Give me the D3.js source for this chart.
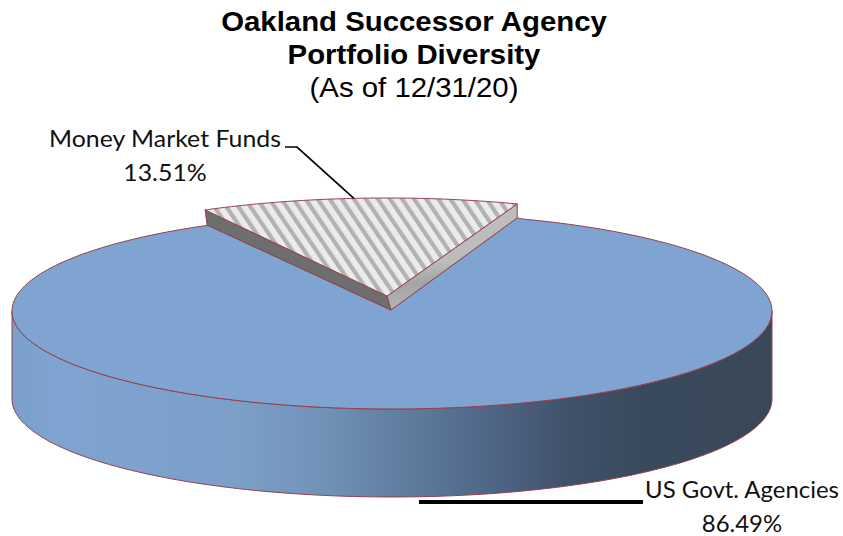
<!DOCTYPE html>
<html><head><meta charset="utf-8">
<script src="https://cdn.jsdelivr.net/npm/d3@7/dist/d3.min.js"></script>
<style>html,body{margin:0;padding:0;background:#fff}svg{display:block}</style>
</head><body><svg id="c" width="843" height="536"></svg>
<script>
const categories = ["Money Market Funds", "US Govt. Agencies"];
const values = [13.51, 86.49];
const valueLabels = ["13.51%", "86.49%"];
const titleLines = ["Oakland Successor Agency", "Portfolio Diversity", "(As of 12/31/20)"];

const W = 843, H = 536;
const cx = 392, cy = 311, rx = 380, ry = 98, depth = 88;
const wedgeDx = -5, wedgeDy = -15;
const stroke = "#96404a";
const rad = d3.scaleLinear().domain([0, 360]).range([0, 2 * Math.PI]);

const svg = d3.select("#c");
const defs = svg.append("defs");

const wall = defs.append("linearGradient").attr("id", "wall")
  .attr("gradientUnits", "userSpaceOnUse").attr("x1", cx - rx).attr("x2", cx + rx).attr("y1", 0).attr("y2", 0);
[[0, "#7b9fcb"], [.06, "#7fa4d1"], [.3, "#7c9fc8"], [.42, "#7090b6"], [.52, "#5f7c9e"], [.64, "#4e6484"],
 [.74, "#3f5068"], [.82, "#3a4a5e"], [1, "#394858"]]
  .forEach(([o, c]) => wall.append("stop").attr("offset", o).attr("stop-color", c));

const wr = defs.append("linearGradient").attr("id", "wedgeR").attr("x1", 0).attr("y1", 0).attr("x2", 0).attr("y2", 1);
[[0, "#bdbdbd"], [.55, "#bcbcbc"], [.75, "#a4a4a4"], [1, "#b4b4b4"]]
  .forEach(([o, c]) => wr.append("stop").attr("offset", o).attr("stop-color", c));

const pat = defs.append("pattern").attr("id", "stripes").attr("patternUnits", "userSpaceOnUse")
  .attr("width", 10).attr("height", 10).attr("patternTransform", "rotate(-34)");
pat.append("rect").attr("width", 10).attr("height", 10).attr("fill", "#ebebeb");
pat.append("rect").attr("width", 4.2).attr("height", 10).attr("fill", "#b2b2b2");

const pie = d3.pie().sort(null).startAngle(rad(-28.6)).endAngle(rad(-28.6) + 2 * Math.PI);
const [money, govt] = pie(values);

const pt = (a, ox = 0, oy = 0) => [cx + ox + rx * Math.sin(a), cy + oy - ry * Math.cos(a)];
const sweep = (a0, a1, ox = 0, oy = 0) => d3.range(0, 121).map(i => pt(a0 + (a1 - a0) * i / 120, ox, oy));
const line = d3.line();

// Exploded slice corners
const apex = [cx + wedgeDx, cy + wedgeDy];
const a0 = pt(money.startAngle, wedgeDx, wedgeDy), a1 = pt(money.endAngle, wedgeDx, wedgeDy);
const apexLow = [apex[0] + 4, apex[1] + 14], a0Low = [a0[0] + 2, a0[1] + 15], a1Low = [a1[0], a1[1] + 14];

// Front wall of the main pie
const front = sweep(rad(90), rad(270));
const back = sweep(rad(270), rad(90), 0, depth);
svg.append("path").attr("d", line(front.concat(back)) + "Z")
  .attr("fill", "url(#wall)").attr("stroke", stroke).attr("stroke-width", 1);

// Main pie top face
svg.append("path")
  .attr("d", line([apexLow, a1Low].concat(sweep(govt.startAngle, govt.endAngle), [a0Low])) + "Z")
  .attr("fill", "#80a4d1").attr("stroke", stroke).attr("stroke-width", 1).attr("stroke-linejoin", "round");

// Exploded slice: cut faces, then top
svg.append("path").attr("d", line([apex, a0, a0Low, apexLow]) + "Z")
  .attr("fill", "#6e6e6e").attr("stroke", stroke).attr("stroke-width", 1);
svg.append("path").attr("d", line([apex, a1, a1Low, apexLow]) + "Z")
  .attr("fill", "url(#wedgeR)").attr("stroke", stroke).attr("stroke-width", 1);
svg.append("path")
  .attr("d", line([apex].concat(sweep(money.startAngle, money.endAngle, wedgeDx, wedgeDy))) + "Z")
  .attr("fill", "url(#stripes)").attr("stroke", stroke).attr("stroke-width", 1).attr("stroke-linejoin", "round");

// Leader lines
const mm = pt(rad(-5.0), wedgeDx, wedgeDy);
svg.append("path").attr("d", line([[285, 147], [297, 147], mm]))
  .attr("fill", "none").attr("stroke", "#000").attr("stroke-width", 1.7);
svg.append("path").attr("d", line([[419, 502], [643, 502]]))
  .attr("fill", "none").attr("stroke", "#000").attr("stroke-width", 4);

// Title
const titleFont = "'Liberation Sans', Arial, sans-serif";
[[titleLines[0], 31, "bold"], [titleLines[1], 63.5, "bold"], [titleLines[2], 97, "normal"]].forEach(([t, y, w]) =>
  svg.append("text").attr("transform", `translate(414,${y}) scale(1.08,1)`).attr("text-anchor", "middle")
    .attr("font-family", titleFont).attr("font-size", 27.2).attr("font-weight", w).attr("fill", "#000").text(t));

// Data labels
const labelFont = "Lato, 'Open Sans', sans-serif";
const labels = [
  {x: 165, y: 147, i: 0, sx: 1.1},
  {x: 742, y: 498, i: 1, sx: 1.06}
];
labels.forEach(({x, y, i, sx}) => {
  [[categories[i], y], [valueLabels[i], y + 33.5]].forEach(([t, yy]) =>
    svg.append("text").attr("transform", `translate(${x},${yy}) scale(${sx},1)`).attr("text-anchor", "middle")
      .attr("font-family", labelFont).attr("font-size", 22.6).attr("fill", "#111").text(t));
});
</script></body></html>
